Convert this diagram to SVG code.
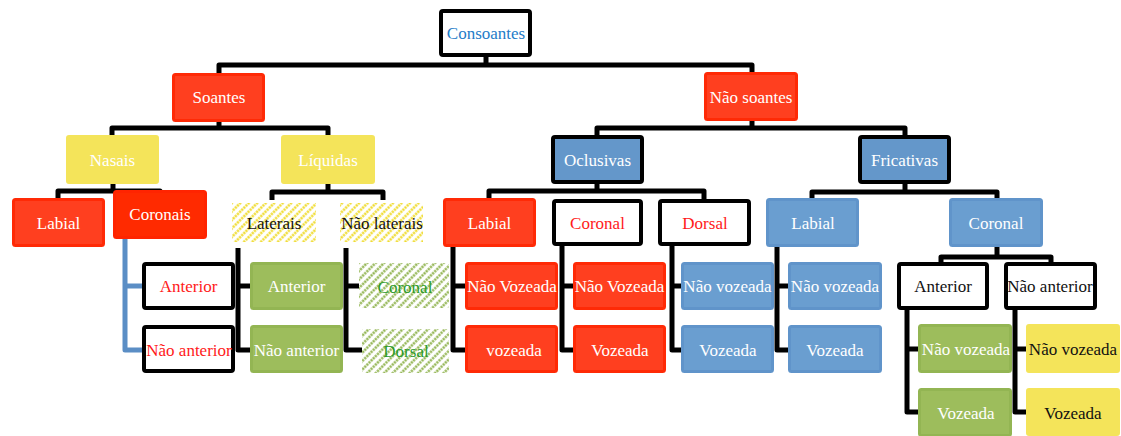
<svg xmlns="http://www.w3.org/2000/svg" width="1121" height="436" viewBox="0 0 1121 436">
  <defs>
    <pattern id="hatchYellow" width="6" height="6" patternUnits="userSpaceOnUse" patternTransform="rotate(45)">
      <line x1="1.5" y1="0" x2="1.5" y2="6" stroke="#F0DC30" stroke-width="2.4" stroke-dasharray="2.2 0.8"/>
    </pattern>
    <pattern id="hatchGreen" width="6" height="6" patternUnits="userSpaceOnUse" patternTransform="rotate(45)">
      <line x1="1.5" y1="0" x2="1.5" y2="6" stroke="#93B553" stroke-width="2.4" stroke-dasharray="2.2 0.8"/>
    </pattern>
  </defs>
  <style>
    text { font-family: "Liberation Serif", "DejaVu Serif", serif; font-size: 17px; text-anchor: middle; dominant-baseline: central; fill: #ffffff; }
    .red rect { fill: #FF3F1F; stroke: #FF2A06; stroke-width: 3; }
    .redb rect { fill: #FF2A00; stroke: #FF2400; stroke-width: 3; }
    .yellow rect { fill: #F4E45A; stroke: #F4E45A; stroke-width: 2; }
    .yellow.dark text { fill: #111111; }
    .green rect { fill: #9DBD5C; stroke: #93B553; stroke-width: 3; }
    .blue rect { fill: #6A9ED0; stroke: #6094CA; stroke-width: 3; }
    .blueb rect { fill: #6497CA; stroke: #000000; stroke-width: 4; }
    .white rect { fill: #ffffff; stroke: #000000; stroke-width: 4; }
    .white text { fill: #111111; }
    .white.rt text { fill: #FF1A1A; }
    .white.bt text { fill: #1E7CC8; }
    .hy rect { fill: url(#hatchYellow); stroke: none; }
    .hy text { fill: #111111; }
    .hg rect { fill: url(#hatchGreen); stroke: none; }
    .hg text { fill: #2A9A2A; }
    .conn path { fill: none; stroke: #000000; stroke-width: 5; stroke-linejoin: round; stroke-linecap: butt; }
    .conn path.blueline { stroke: #5B8EC5; }
  </style>

  <!-- connectors -->
  <g id="connectors" class="conn">
    <path d="M486 57 V65"/>
    <path d="M219 73 V65 H752 V72"/>
    <path d="M219 122 V128"/>
    <path d="M112 135 V128 H328 V135"/>
    <path d="M752 121 V128"/>
    <path d="M597 135 V128 H905 V135"/>
    <path d="M113 184 V191"/>
    <path d="M58 198 V191 H160 V198"/>
    <path class="blueline" d="M125 239 V350 H143"/>
    <path class="blueline" d="M125 286 H143"/>
    <path d="M328 184 V192"/>
    <path d="M272 200 V192 H383 V200"/>
    <path d="M238 248 V350 H250"/>
    <path d="M238 286 H250"/>
    <path d="M346 248 V350 H362"/>
    <path d="M346 286 H359"/>
    <path d="M597 184 V191"/>
    <path d="M489 198 V191 H704 V199"/>
    <path d="M453 247 V350 H465"/>
    <path d="M453 286 H465"/>
    <path d="M562 246 V350 H573"/>
    <path d="M562 286 H573"/>
    <path d="M672 246 V350 H681"/>
    <path d="M672 286 H681"/>
    <path d="M905 184 V192"/>
    <path d="M812 198 V192 H997 V198"/>
    <path d="M777 247 V350 H788"/>
    <path d="M777 286 H788"/>
    <path d="M997 247 V257"/>
    <path d="M941 262 V257 H1051 V262"/>
    <path d="M907 310 V412 H918"/>
    <path d="M907 349 H918"/>
    <path d="M1015 310 V412 H1026"/>
    <path d="M1015 349 H1026"/>
  </g>

  <!-- level 0 -->
  <g id="consoantes" class="white bt"><rect x="441" y="11" width="89" height="44" rx="2"/><text x="486" y="33">Consoantes</text></g>

  <!-- level 1 -->
  <g id="soantes" class="red"><rect x="173.5" y="74.5" width="90" height="46" rx="2"/><text x="219" y="97">Soantes</text></g>
  <g id="nao-soantes" class="red"><rect x="705.5" y="73.5" width="91" height="46" rx="2"/><text x="751" y="97">Não soantes</text></g>

  <!-- level 2 -->
  <g id="nasais" class="yellow"><rect x="67" y="136" width="91" height="47" rx="2"/><text x="112.5" y="160">Nasais</text></g>
  <g id="liquidas" class="yellow"><rect x="282" y="136" width="92" height="47" rx="2"/><text x="328" y="160">Líquidas</text></g>
  <g id="oclusivas" class="blueb"><rect x="553" y="137" width="89" height="45" rx="2"/><text x="597.5" y="160">Oclusivas</text></g>
  <g id="fricativas" class="blueb"><rect x="860" y="137" width="89" height="45" rx="2"/><text x="904.5" y="160">Fricativas</text></g>

  <!-- soantes / nasais -->
  <g id="labial-nasal" class="red"><rect x="13.5" y="199.5" width="90" height="46" rx="2"/><text x="58.5" y="223">Labial</text></g>
  <g id="coronais" class="redb"><rect x="114.5" y="191.5" width="91" height="46" rx="2"/><text x="160" y="214">Coronais</text></g>
  <g id="anterior-nasal" class="white rt"><rect x="144" y="264" width="89" height="44" rx="2"/><text x="188.5" y="286">Anterior</text></g>
  <g id="nao-anterior-nasal" class="white rt"><rect x="144" y="327" width="89" height="44" rx="2"/><text x="189" y="350">Não anterior</text></g>

  <!-- soantes / liquidas -->
  <g id="laterais" class="hy"><rect x="232" y="203" width="84" height="39"/><text x="274" y="223">Laterais</text></g>
  <g id="nao-laterais" class="hy"><rect x="340" y="203" width="83" height="39"/><text x="382" y="223">Não laterais</text></g>
  <g id="anterior-lateral" class="green"><rect x="251.5" y="263.5" width="90" height="45" rx="2"/><text x="296.5" y="286">Anterior</text></g>
  <g id="nao-anterior-lateral" class="green"><rect x="251.5" y="326.5" width="90" height="45" rx="2"/><text x="296.5" y="350">Não anterior</text></g>
  <g id="coronal-nao-lateral" class="hg"><rect x="359" y="263" width="90" height="45"/><text x="405" y="287">Coronal</text></g>
  <g id="dorsal-nao-lateral" class="hg"><rect x="362" y="329" width="87" height="44"/><text x="406" y="351">Dorsal</text></g>

  <!-- oclusivas -->
  <g id="labial-oclusiva" class="red"><rect x="444.5" y="199.5" width="90" height="46" rx="2"/><text x="489.5" y="223">Labial</text></g>
  <g id="coronal-oclusiva" class="white rt"><rect x="554" y="201" width="87" height="43" rx="2"/><text x="597.5" y="223">Coronal</text></g>
  <g id="dorsal-oclusiva" class="white rt"><rect x="660" y="201" width="89" height="43" rx="2"/><text x="705" y="223">Dorsal</text></g>
  <g id="nv-labial-oclusiva" class="red"><rect x="466.5" y="263.5" width="90" height="45" rx="2"/><text x="512" y="286">Não Vozeada</text></g>
  <g id="v-labial-oclusiva" class="red"><rect x="466.5" y="326.5" width="90" height="45" rx="2"/><text x="514" y="350">vozeada</text></g>
  <g id="nv-coronal-oclusiva" class="red"><rect x="574.5" y="263.5" width="90" height="45" rx="2"/><text x="619.5" y="286">Não Vozeada</text></g>
  <g id="v-coronal-oclusiva" class="red"><rect x="574.5" y="326.5" width="90" height="45" rx="2"/><text x="620" y="350">Vozeada</text></g>
  <g id="nv-dorsal-oclusiva" class="blue"><rect x="682.5" y="263.5" width="90" height="45" rx="2"/><text x="727.5" y="286">Não vozeada</text></g>
  <g id="v-dorsal-oclusiva" class="blue"><rect x="682.5" y="326.5" width="90" height="45" rx="2"/><text x="728" y="350">Vozeada</text></g>

  <!-- fricativas -->
  <g id="labial-fricativa" class="blue"><rect x="767.5" y="199.5" width="90" height="46" rx="2"/><text x="813" y="223">Labial</text></g>
  <g id="coronal-fricativa" class="blue"><rect x="950.5" y="199.5" width="91" height="46" rx="2"/><text x="996" y="223">Coronal</text></g>
  <g id="nv-labial-fricativa" class="blue"><rect x="789.5" y="263.5" width="91" height="45" rx="2"/><text x="835" y="286">Não vozeada</text></g>
  <g id="v-labial-fricativa" class="blue"><rect x="789.5" y="326.5" width="91" height="45" rx="2"/><text x="835" y="350">Vozeada</text></g>
  <g id="anterior-fricativa" class="white"><rect x="899" y="264" width="88" height="44" rx="2"/><text x="943" y="286">Anterior</text></g>
  <g id="nao-anterior-fricativa" class="white"><rect x="1006" y="264" width="89" height="44" rx="2"/><text x="1050" y="286">Não anterior</text></g>
  <g id="nv-anterior-fricativa" class="green"><rect x="919.5" y="325.5" width="91" height="46" rx="2"/><text x="966" y="349">Não vozeada</text></g>
  <g id="v-anterior-fricativa" class="green"><rect x="919.5" y="389.5" width="91" height="46" rx="2"/><text x="966" y="413">Vozeada</text></g>
  <g id="nv-nao-anterior-fricativa" class="yellow dark"><rect x="1027" y="325" width="92" height="47" rx="2"/><text x="1073" y="349">Não vozeada</text></g>
  <g id="v-nao-anterior-fricativa" class="yellow dark"><rect x="1027" y="389" width="92" height="46" rx="2"/><text x="1073" y="413">Vozeada</text></g>
</svg>
